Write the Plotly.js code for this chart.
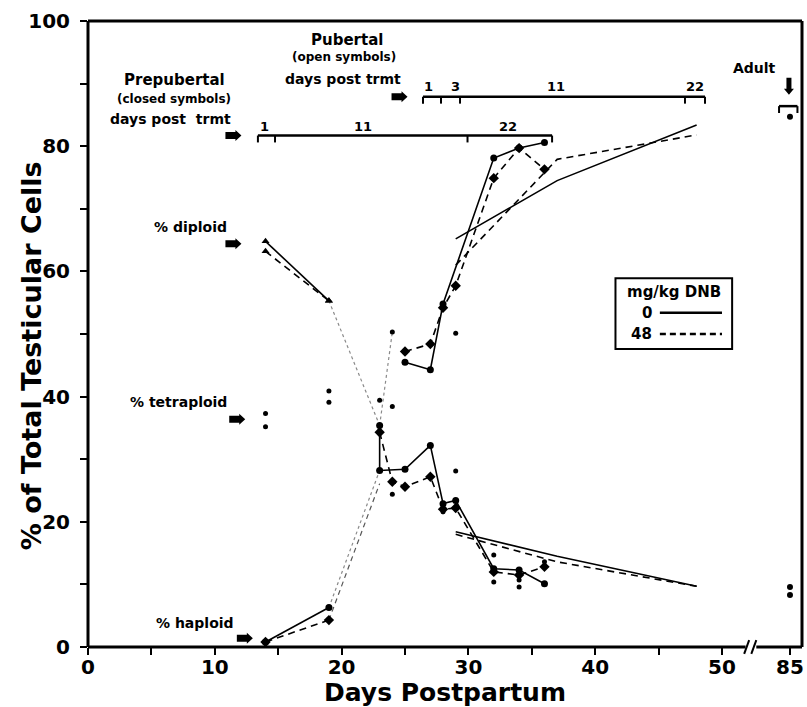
<!DOCTYPE html>
<html><head><meta charset="utf-8">
<script src="https://cdn.plot.ly/plotly-3.0.1.min.js"></script>
<style>html,body{margin:0;padding:0;background:#fff}</style>
</head><body><div id="chart" style="width:807px;height:707px"></div>
<script>
// ---------- DATA ----------
// Prepubertal groups (closed symbols), treatment at day 13
const diploidDays = [14, 19];
const diploid0 = [64.8, 55.3];
const diploid48 = [63.2, 55.3];

const haploidDays = [14, 19];
const haploid0 = [0.8, 6.3];
const haploid48 = [0.8, 4.3];

// faint dotted links
const linkDipDays = [19, 23];
const linkDip = [55.3, 35.4];
const linkHap0Days = [19, 23];
const linkHap0 = [6.3, 28.2];
const linkHap48Days = [19, 23];
const linkHap48 = [4.3, 26.1];
const linkUpDays = [23, 24];
const linkUp = [35.4, 50.3];

// rising curve
const upperDays0 = [25, 27, 28, 32, 34, 36];
const upper0 = [45.5, 44.3, 54.8, 78.1, 79.7, 80.6];
const upperDays48 = [25, 27, 28, 29, 32, 34, 36];
const upper48 = [47.2, 48.4, 54.2, 57.7, 74.9, 79.7, 76.3];

// falling curve
const lowerDays0 = [23, 23, 25, 27, 28, 29, 32, 34, 36];
const lower0 = [35.4, 28.2, 28.4, 32.2, 22.9, 23.4, 12.5, 12.3, 10.1];
const lowerDays48 = [23, 24, 25, 27, 28, 29, 32, 34, 36];
const lower48 = [34.3, 26.4, 25.6, 27.2, 22.0, 22.2, 12.0, 11.5, 12.8];

// unconnected points
const scatterDays = [14, 14, 19, 19, 23, 24, 24, 24, 28, 29, 29, 32, 32, 34, 34, 36];
const scatterVals = [37.3, 35.2, 40.9, 39.1, 39.4, 38.4, 50.3, 24.4, 21.6, 28.1, 50.1, 14.7, 10.4, 10.7, 9.6, 13.6];

// Pubertal groups (open symbols), treatment at day 26
const pubDays = [29, 37, 48];
const pubUpper0 = [65.2, 74.5, 83.4];
const pubUpper48 = [61.0, 77.9, 81.8];
const pubLower0 = [18.4, 14.5, 9.7];
const pubLower48 = [18.0, 13.6, 9.7];

// Adult
const adultDays = [85, 85, 85];
const adultVals = [84.7, 9.6, 8.3];

// tick labels
const xTickVals = [0, 5, 10, 15, 20, 25, 30, 35, 40, 45, 50];
const xTickText = ['0', '', '10', '', '20', '', '30', '', '40', '', '50'];
const yTickVals = [0, 10, 20, 30, 40, 50, 60, 70, 80, 90, 100];
const yTickText = ['0', '', '20', '', '40', '', '60', '', '80', '', '100'];

// ---------- STYLE ----------
const BK = '#000';
const solid = {color: BK, width: 1.6};
const dashed = {color: BK, width: 1.6, dash: '7px,5px'};
const dotted = {color: '#8a8a8a', width: 1.2, dash: 'dot'};
const m0 = {symbol: 'circle', size: 7, color: BK};
const m48 = {symbol: 'diamond', size: 8, color: BK};
const mTri = {symbol: 'triangle-up', size: 7, color: BK};

function tr(x, y, line, marker, mode, xa) {
  const t = {x: x, y: y, type: 'scatter', mode: mode,
          xaxis: xa || 'x', yaxis: 'y', showlegend: false, hoverinfo: 'skip', cliponaxis: false};
  if (line) t.line = line;
  if (marker) t.marker = marker;
  return t;
}

const traces = [
  tr(linkDipDays, linkDip, dotted, null, 'lines'),
  tr(linkHap0Days, linkHap0, dotted, null, 'lines'),
  tr(linkHap48Days, linkHap48, {color: '#555', width: 1.2, dash: '5px,4px'}, null, 'lines'),
  tr(linkUpDays, linkUp, dotted, null, 'lines'),
  tr(diploidDays, diploid0, solid, mTri, 'lines+markers'),
  tr(diploidDays, diploid48, dashed, mTri, 'lines+markers'),
  tr(haploidDays, haploid0, solid, m0, 'lines+markers'),
  tr(haploidDays, haploid48, dashed, m48, 'lines+markers'),
  tr(upperDays0, upper0, solid, m0, 'lines+markers'),
  tr(upperDays48, upper48, dashed, m48, 'lines+markers'),
  tr(lowerDays0, lower0, solid, m0, 'lines+markers'),
  tr(lowerDays48, lower48, dashed, m48, 'lines+markers'),
  tr(scatterDays, scatterVals, null, {symbol: 'circle', size: 5, color: BK}, 'markers'),
  tr(pubDays, pubUpper0, solid, null, 'lines'),
  tr(pubDays, pubUpper48, dashed, null, 'lines'),
  tr(pubDays, pubLower0, solid, null, 'lines'),
  tr(pubDays, pubLower48, dashed, null, 'lines'),
  tr(adultDays, adultVals, null, {symbol: 'circle', size: 6, color: BK}, 'markers', 'x2')
];

const F = 'DejaVu Sans, Liberation Sans, Arial, sans-serif';
function txt(x, y, text, size, opts) {
  return Object.assign({x: x, y: y, xref: 'x', yref: 'y', text: text, showarrow: false,
    font: {family: F, size: size, color: BK, weight: 'bold'}, xanchor: 'center', yanchor: 'middle'}, opts || {});
}

const annotations = [
  txt(6.86, 90.6, 'Prepubertal', 15),
  txt(6.8, 87.5, '(closed symbols)', 12),
  txt(6.5, 84.4, 'days post  trmt', 14),
  txt(20.4, 97.0, 'Pubertal', 15),
  txt(20.2, 94.2, '(open symbols)', 12),
  txt(20.1, 90.8, 'days post trmt', 14),
  txt(52.6, 92.5, 'Adult', 14),
  txt(13.95, 83.1, '1', 13),
  txt(21.7, 83.1, '11', 13),
  txt(33.1, 83.1, '22', 13),
  txt(26.85, 89.5, '1', 13),
  txt(29.0, 89.5, '3', 13),
  txt(36.9, 89.5, '11', 13),
  txt(47.9, 89.5, '22', 13),
  txt(8.1, 67.1, '% diploid', 14),
  txt(7.1, 39.2, '% tetraploid', 14),
  txt(8.4, 3.9, '% haploid', 14),
  txt(46.2, 56.7, 'mg/kg DNB', 15),
  txt(44.6, 53.4, '0', 15, {xanchor: 'right'}),
  txt(44.6, 50.0, '48', 15, {xanchor: 'right'}),
  {xref: 'paper', yref: 'paper', x: -0.08, y: 0.466, text: '% of Total Testicular Cells',
   textangle: -90, showarrow: false, font: {family: F, size: 27, color: BK, weight: 'bold'},
   xanchor: 'center', yanchor: 'middle'}
];

function ln(x0, y0, x1, y1, w, ref, dash) {
  const s = {type: 'line', x0: x0, y0: y0, x1: x1, y1: y1, line: {color: BK, width: w}};
  if (ref === 'paper') { s.xref = 'paper'; s.yref = 'paper'; } else { s.xref = 'x'; s.yref = 'y'; }
  if (dash) s.line.dash = dash;
  return s;
}
const RIGHT_ARROW = 'M -16 -3.5 L -6 -3.5 L -6 -5.5 L 0 0 L -6 5.5 L -6 3.5 L -16 3.5 Z';
const DOWN_ARROW = 'M -2.5 17 L 2.5 17 L 2.5 6 L 5 6 L 0 0 L -5 6 L -2.5 6 Z';
function arrowShape(x, y, path) {
  return {type: 'path', xref: 'x', yref: 'y', xsizemode: 'pixel', ysizemode: 'pixel',
          xanchor: x, yanchor: y, path: path, fillcolor: BK, line: {width: 0}};
}

const shapes = [
  // frame
  ln(0, 0, 0, 1, 3, 'paper'),
  ln(0, 1, 1, 1, 3, 'paper'),
  ln(1, 0, 1, 1, 3, 'paper'),
  ln(0, 0, 0.921, 0, 3, 'paper'),
  ln(0.936, 0, 1, 0, 3, 'paper'),
  ln(0.919, -0.011, 0.926, 0.011, 2, 'paper'),
  ln(0.929, -0.011, 0.936, 0.011, 2, 'paper'),
  // prepubertal scale
  ln(13.4, 81.7, 36.6, 81.7, 2.5),
  ln(13.4, 81.7, 13.4, 80.6, 2),
  ln(14.75, 81.7, 14.75, 80.6, 2),
  ln(29.93, 81.7, 29.93, 80.6, 2),
  ln(36.6, 81.7, 36.6, 80.6, 2),
  // pubertal scale
  ln(26.42, 87.9, 48.66, 87.9, 2.5),
  ln(26.42, 87.9, 26.42, 86.8, 2),
  ln(27.84, 87.9, 27.84, 86.8, 2),
  ln(29.34, 87.9, 29.34, 86.8, 2),
  ln(47.08, 87.9, 47.08, 86.8, 2),
  ln(48.66, 87.9, 48.66, 86.8, 2),
  // adult bracket
  ln(54.5, 86.4, 55.95, 86.4, 2.5),
  ln(54.5, 86.4, 54.5, 85.3, 2),
  ln(55.95, 86.4, 55.95, 85.3, 2),
  // legend box
  {type: 'rect', xref: 'x', yref: 'y', x0: 41.6, x1: 50.8, y0: 47.6, y1: 58.9, line: {color: BK, width: 2}},
  ln(45.1, 53.4, 50.0, 53.4, 2.5),
  ln(45.1, 50.0, 50.0, 50.0, 2.5, null, '6px,4px'),
  // pointer arrows
  arrowShape(12.1, 81.7, RIGHT_ARROW),
  arrowShape(25.2, 87.9, RIGHT_ARROW),
  arrowShape(12.1, 64.4, RIGHT_ARROW),
  arrowShape(12.4, 36.4, RIGHT_ARROW),
  arrowShape(13.0, 1.4, RIGHT_ARROW),
  arrowShape(55.28, 88.2, DOWN_ARROW)
];

const tickFont = {family: F, size: 20, color: BK, weight: 'bold'};
const layout = {
  width: 807, height: 707,
  margin: {l: 88, r: 5, t: 21, b: 60},
  paper_bgcolor: '#fff', plot_bgcolor: '#fff',
  showlegend: false,
  xaxis: {
    domain: [0, 1], range: [0, 56.31], tickmode: 'array', tickvals: xTickVals, ticktext: xTickText,
    ticks: 'outside', ticklen: 7, tickwidth: 2, tickcolor: BK, showgrid: false, zeroline: false,
    showline: false, tickfont: tickFont, ticklabelstandoff: -5, fixedrange: true,
    title: {text: 'Days Postpartum', font: {family: F, size: 25, color: BK, weight: 'bold'}, standoff: 12}
  },
  xaxis2: {
    domain: [0.9286, 1], range: [81.92, 85.95], anchor: 'y', tickmode: 'array', tickvals: [85], ticktext: ['85'],
    ticks: 'outside', ticklen: 7, tickwidth: 2, tickcolor: BK, showgrid: false, zeroline: false,
    showline: false, tickfont: tickFont, ticklabelstandoff: -5, fixedrange: true
  },
  yaxis: {
    domain: [0, 1], range: [0, 100], tickmode: 'array', tickvals: yTickVals, ticktext: yTickText,
    ticks: 'outside', ticklen: 7, tickwidth: 2, tickcolor: BK, showgrid: false, zeroline: false,
    showline: false, tickfont: tickFont, ticklabelstandoff: 6, fixedrange: true
  },
  annotations: annotations,
  shapes: shapes
};

Plotly.newPlot('chart', traces, layout, {displayModeBar: false, staticPlot: true});
</script></body></html>
